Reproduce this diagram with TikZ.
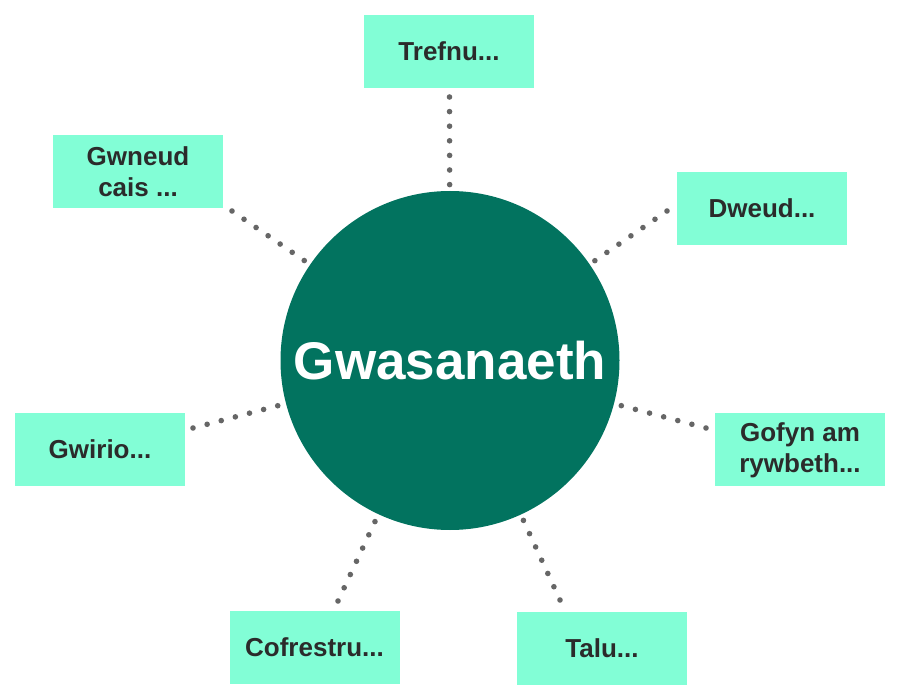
\documentclass[tikz,border=0pt]{standalone}
\usepackage{fontspec}
\setmainfont{Liberation Sans}
\definecolor{boxfill}{HTML}{82FED6}
\definecolor{circfill}{HTML}{02735F}
\definecolor{dotgrey}{HTML}{666666}
\definecolor{txt}{HTML}{2B2B2B}
\tikzset{
  itembox/.style={fill=boxfill, minimum width=170pt, minimum height=73pt, inner sep=0pt,
    align=center, text=txt, font=\fontsize{26}{31}\selectfont\bfseries},
  hub/.style={circle, fill=circfill, minimum size=339pt, inner sep=0pt,
    text=white, font=\fontsize{53}{60}\selectfont\bfseries},
  dotline/.style={draw=dotgrey, line width=5.6pt, line cap=round, dash pattern=on 0pt off 14.6pt}
}
\begin{document}
\begin{tikzpicture}[x=1pt,y=-1pt]
\useasboundingbox (0,0) rectangle (900,700);
\coordinate (o) at (450,360.5);
% connector end points (near boxes)
\coordinate (eTref) at (449.5,97);
\coordinate (eGwn) at (232,211);
\coordinate (eDw) at (667,211);
\coordinate (eGwi) at (193,428);
\coordinate (eGof) at (706,428);
\coordinate (eCof) at (338,601);
\coordinate (eTalu) at (560,600);
\foreach \e in {eTref,eGwn,eDw,eGwi,eGof,eCof,eTalu}
  \draw[dotline] (\e) -- (o);
\node[hub] (c) at (o) {Gwasanaeth};
\node[itembox] (tref) at (449,51.5) {Trefnu...};
\node[itembox] (gwn) at (138,171.5) {Gwneud\\cais ...};
\node[itembox] (dw) at (762,208.5) {Dweud...};
\node[itembox] (gwi) at (100,449.5) {Gwirio...};
\node[itembox] (gof) at (800,450) {Gofyn am\\rywbeth...};
\node[itembox] (cof) at (314.5,647.5) {Cofrestru...};
\node[itembox] (talu) at (602,648) {Talu...};
\end{tikzpicture}
\end{document}
